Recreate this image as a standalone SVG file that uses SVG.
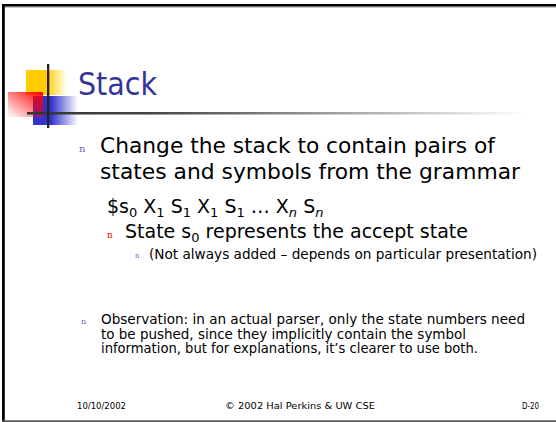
<svg xmlns="http://www.w3.org/2000/svg" width="556" height="422" viewBox="0 0 556 422">
<defs>
<linearGradient id="gy" x1="0" y1="0" x2="1" y2="0"><stop offset="0.5" stop-color="#ffcc00"/><stop offset="1" stop-color="#ffcc00" stop-opacity="0"/></linearGradient>
<linearGradient id="gb" x1="0" y1="0" x2="1" y2="0"><stop offset="0.4" stop-color="#3333cc"/><stop offset="1" stop-color="#3333cc" stop-opacity="0"/></linearGradient>
<linearGradient id="gr" x1="1" y1="0" x2="0" y2="1"><stop offset="0" stop-color="#ff0000"/><stop offset="1" stop-color="#ff0000" stop-opacity="0"/></linearGradient>
<linearGradient id="gl" x1="0" y1="0" x2="1" y2="0"><stop offset="0" stop-color="#333333"/><stop offset="0.25" stop-color="#444444"/><stop offset="1" stop-color="#ffffff"/></linearGradient>
<style>
.t{font-family:"DejaVu Sans",Verdana,sans-serif;fill:#000}
.c{font-family:"DejaVu Sans Condensed","DejaVu Sans",sans-serif;font-stretch:condensed;fill:#000}
.b{font-family:"DejaVu Serif","Liberation Serif",serif}
</style>
</defs>
<rect width="556" height="422" fill="#fff"/>
<g id="frame">
<rect x="2" y="4" width="554" height="2.6" fill="#000"/>
<rect x="2" y="6.6" width="554" height="0.8" fill="#777"/>
<rect x="2" y="4" width="2.8" height="418" fill="#000"/>
<rect x="2" y="420.3" width="554" height="1.7" fill="#555"/>
</g>
<g id="logo">
<rect x="26" y="70" width="41" height="25" fill="url(#gy)"/>
<rect x="33" y="96" width="45" height="29" fill="url(#gb)"/>
<rect x="8" y="92" width="35" height="25" fill="url(#gr)"/>
<rect x="27" y="112" width="500" height="2.5" fill="url(#gl)"/>
<rect x="47" y="64" width="2.3" height="64" fill="#222"/>
</g>
<g id="title">
<text class="c" x="78" y="95" font-size="32" style="fill:#333399" textLength="79" lengthAdjust="spacingAndGlyphs">Stack</text>
</g>
<g id="body">
<text class="b" x="79" y="152" font-size="10" fill="#6666cc">n</text>
<text class="c" x="100" y="153" font-size="22" textLength="395" lengthAdjust="spacingAndGlyphs">Change the stack to contain pairs of</text>
<text class="c" x="100" y="178.5" font-size="22" textLength="420" lengthAdjust="spacingAndGlyphs">states and symbols from the grammar</text>
<text class="t" x="107" y="213" font-size="19">$s<tspan font-size="13" dy="4">0</tspan><tspan dy="-4"> X</tspan><tspan font-size="13" dy="4">1</tspan><tspan dy="-4"> S</tspan><tspan font-size="13" dy="4">1</tspan><tspan dy="-4"> X</tspan><tspan font-size="13" dy="4">1</tspan><tspan dy="-4"> S</tspan><tspan font-size="13" dy="4">1</tspan><tspan dy="-4"> … X</tspan><tspan font-size="13" dy="4" font-style="italic">n</tspan><tspan dy="-4"> S</tspan><tspan font-size="13" dy="4" font-style="italic">n</tspan></text>
<text class="b" x="107" y="238" font-size="9" fill="#ff0000">n</text>
<text class="t" x="125" y="238" font-size="19">State s<tspan font-size="13" dy="4">0</tspan><tspan dy="-4"> represents the accept state</tspan></text>
<text class="b" x="135" y="258" font-size="7" fill="#6666cc">n</text>
<text class="c" x="149" y="258.5" font-size="14" textLength="388" lengthAdjust="spacingAndGlyphs">(Not always added – depends on particular presentation)</text>
<text class="b" x="81" y="324" font-size="8" fill="#6666cc">n</text>
<text class="c" x="101" y="324" font-size="14.5" textLength="424" lengthAdjust="spacingAndGlyphs">Observation: in an actual parser, only the state numbers need</text>
<text class="c" x="101" y="338.5" font-size="14.5" textLength="365" lengthAdjust="spacingAndGlyphs">to be pushed, since they implicitly contain the symbol</text>
<text class="c" x="101" y="353" font-size="14.5" textLength="377" lengthAdjust="spacingAndGlyphs">information, but for explanations, it’s clearer to use both.</text>
</g>
<g id="footer">
<text class="c" x="77" y="409" font-size="9.5" textLength="49" lengthAdjust="spacingAndGlyphs">10/10/2002</text>
<text class="c" x="225" y="409" font-size="9.5" textLength="150" lengthAdjust="spacingAndGlyphs">© 2002 Hal Perkins &amp; UW CSE</text>
<text class="c" x="522" y="409" font-size="9.5" textLength="17" lengthAdjust="spacingAndGlyphs">D-20</text>
</g>
</svg>
